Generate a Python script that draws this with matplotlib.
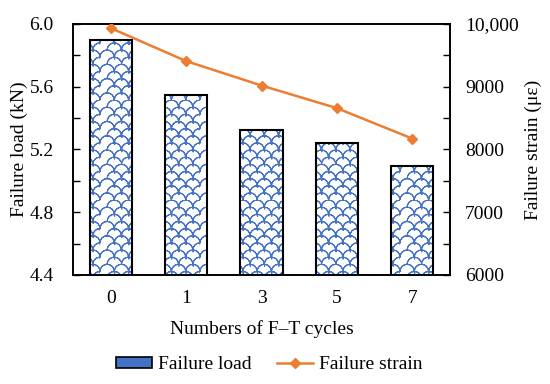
import numpy as np
import matplotlib
matplotlib.use("Agg")
import matplotlib.pyplot as plt
import matplotlib.hatch as mhatch
from matplotlib.path import Path
from matplotlib.patches import Patch
from matplotlib.lines import Line2D
from matplotlib.ticker import MultipleLocator, FuncFormatter

# data
ciclos = ["0", "1", "3", "5", "7"]
carga_falla = [5.894, 5.546, 5.322, 5.242, 5.095]      # kN
deform_falla = [9931, 9406, 9017, 8657, 8172]          # micro-strain

azul = "#4472C4"
naranja = "#ED7D31"


# custom "scale" hatch (approximates the wavy pattern of the original)
class EscamasHatch(mhatch.HatchPatternBase):
    n_seg = 8

    def __init__(self, hatch, density):
        self.num_rows = int(round(hatch.count("s") * density * 7 / 6))
        m = 2 * (self.n_seg + 1)  # arc there and back -> no filled area
        if self.num_rows:
            self.num_vertices = self.num_rows * self.num_rows * 2 * m
        else:
            self.num_vertices = 0

    def set_vertices_and_codes(self, vertices, codes):
        n = self.num_rows
        step = 1.0 / n
        t = np.linspace(0, np.pi, self.n_seg + 1)
        arco_x = 0.5 - 0.5 * np.cos(t)
        arco_y = 0.5 * np.sin(t)
        arco_x = np.concatenate([arco_x, arco_x[::-1]])
        arco_y = np.concatenate([arco_y, arco_y[::-1]])
        m = len(arco_x)
        k = 0
        for i in range(n):
            for j in range(n):
                for fila, dx in ((0, 0.0), (0.5, 0.5)):
                    vertices[k:k + m, 0] = (j + dx + arco_x) * step
                    vertices[k:k + m, 1] = (i + fila + arco_y) * step
                    codes[k] = Path.MOVETO
                    codes[k + 1:k + m] = Path.LINETO
                    k += m


mhatch._hatch_types.append(EscamasHatch)

plt.rcParams["font.family"] = ["Liberation Serif", "DejaVu Serif"]
plt.rcParams["hatch.linewidth"] = 0.8

fig = plt.figure(figsize=(5.5, 3.84), dpi=100)
ax = fig.add_axes([0.133, 0.284, 0.685, 0.654])
x = np.arange(len(ciclos))

ax.bar(x, carga_falla, width=0.56, bottom=0, color="white", edgecolor=azul,
       hatch="s", linewidth=0, zorder=2)
ax.bar(x, carga_falla, width=0.56, bottom=0, color="none", edgecolor="black",
       linewidth=1.5, zorder=3)

ax.set_ylim(4.4, 6.0)
ax.set_xlim(-0.5, len(ciclos) - 0.5)
ax.set_xticks(x)
ax.set_xticklabels(ciclos)
ax.yaxis.set_major_locator(MultipleLocator(0.4))
ax.yaxis.set_minor_locator(MultipleLocator(0.2))
ax.yaxis.set_major_formatter(FuncFormatter(lambda v, p: f"{v:.1f}"))
ax.tick_params(axis="y", which="both", direction="in", labelsize=14, width=1,
               length=5, pad=14)
ax.tick_params(axis="x", length=0, labelsize=14, pad=11)
ax.set_ylabel("Failure load (kN)", fontsize=14, labelpad=1)
ax.set_xlabel("Numbers of F\u2013T cycles", fontsize=14, labelpad=9)

ax2 = ax.twinx()
ax2.plot(x, deform_falla, color=naranja, linewidth=1.8, marker="D",
         markersize=5.3, zorder=4)
ax2.set_ylim(6000, 10000)
ax2.yaxis.set_major_locator(MultipleLocator(1000))
ax2.yaxis.set_minor_locator(MultipleLocator(500))
ax2.yaxis.set_major_formatter(
    FuncFormatter(lambda v, p: f"{int(v):,}" if v >= 10000 else f"{int(v)}"))
ax2.tick_params(axis="y", which="both", direction="in", labelsize=14, width=1,
                length=5, pad=11)
ax2.set_ylabel("Failure strain (\u03bc\u03b5)", fontsize=14, labelpad=4)

for a in (ax, ax2):
    for s in a.spines.values():
        s.set_linewidth(1.2)

handles = [
    Patch(facecolor=azul, edgecolor="black", linewidth=1.2),
    Line2D([0], [0], color=naranja, marker="D", markersize=5, linewidth=1.8),
]
fig.legend(handles, ["Failure load", "Failure strain"], loc="center",
           bbox_to_anchor=(0.49, 0.05), ncol=2, frameon=False, fontsize=14,
           handlelength=1.85, handleheight=0.5, columnspacing=1.3,
           handletextpad=0.3)

fig.savefig("out.png", dpi=100)
